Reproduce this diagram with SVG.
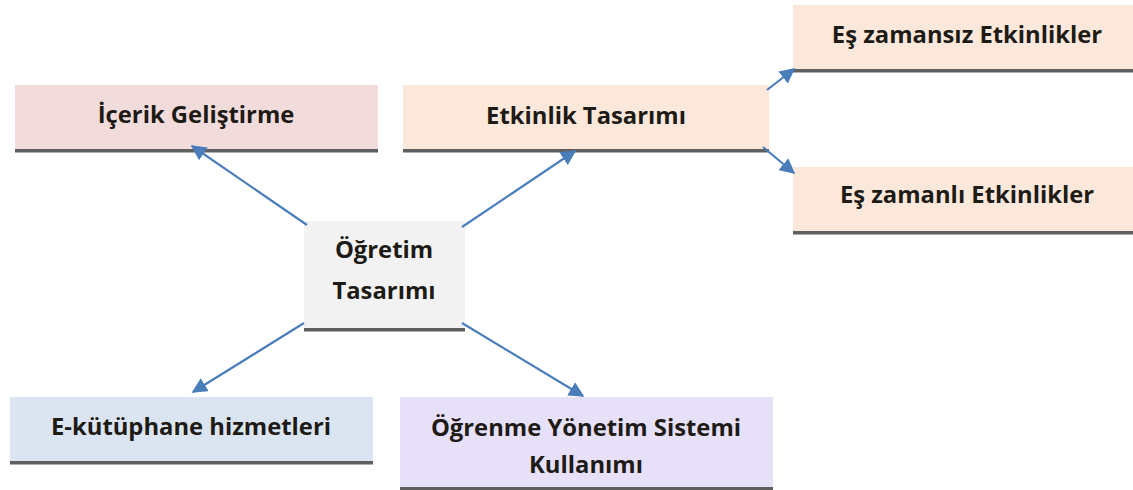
<svg xmlns="http://www.w3.org/2000/svg" width="1133" height="490" viewBox="0 0 1133 490">
<defs>
<style>
.lbl{font-family:"Open Sans","Liberation Sans",sans-serif;font-weight:bold;font-size:23.8px;fill:#1e1b16;text-anchor:middle}
.bar{fill:#5f5f5f}
.con line{stroke:#4a7ebb;stroke-width:2.2;fill:none;marker-end:url(#ah)}
</style>
<marker id="ah" viewBox="0 0 10 10" refX="9" refY="5" markerWidth="7" markerHeight="7" orient="auto" markerUnits="strokeWidth">
<path d="M0,0 L10,5 L0,10 z" fill="#4a7ebb"/>
</marker>
</defs>
<rect width="1133" height="490" fill="#ffffff"/>
<g id="icerik">
<rect x="15" y="85" width="363" height="65" fill="#f2dcdb"/>
<rect class="bar" x="15" y="149" width="363" height="3.5"/>
<text class="lbl" x="196" y="123">İçerik Geliştirme</text>
</g>
<g id="etkinlik">
<rect x="403" y="85" width="366" height="65" fill="#fbe8da"/>
<rect class="bar" x="403" y="149" width="366" height="3.5"/>
<text class="lbl" x="586" y="124">Etkinlik Tasarımı</text>
</g>
<g id="eszamansiz">
<rect x="793" y="5" width="340" height="65" fill="#fbe8da"/>
<rect class="bar" x="793" y="69" width="340" height="3.5"/>
<text class="lbl" x="967" y="43">Eş zamansız Etkinlikler</text>
</g>
<g id="eszamanli">
<rect x="793" y="167" width="340" height="65" fill="#fbe8da"/>
<rect class="bar" x="793" y="231" width="340" height="3.5"/>
<text class="lbl" x="967" y="203">Eş zamanlı Etkinlikler</text>
</g>
<g id="ogretim">
<rect x="304" y="221" width="161" height="108" fill="#f2f2f2"/>
<rect class="bar" x="304" y="328" width="161" height="3.5"/>
<text class="lbl" x="384" y="258">Öğretim</text>
<text class="lbl" x="384" y="299">Tasarımı</text>
</g>
<g id="ekutuphane">
<rect x="10" y="397" width="363" height="65" fill="#dbe5f1"/>
<rect class="bar" x="10" y="461" width="363" height="3.5"/>
<text class="lbl" x="191" y="435">E-kütüphane hizmetleri</text>
</g>
<g id="oys">
<rect x="400" y="397" width="373" height="91" fill="#e6e0f8"/>
<rect class="bar" x="400" y="487" width="373" height="3"/>
<text class="lbl" x="586" y="436">Öğrenme Yönetim Sistemi</text>
<text class="lbl" x="586" y="473">Kullanımı</text>
</g>
<g id="connectors" class="con">
<line x1="307" y1="225" x2="192" y2="146"/>
<line x1="462" y1="227" x2="575" y2="151"/>
<line x1="767" y1="90" x2="794" y2="69"/>
<line x1="763" y1="147" x2="794" y2="173"/>
<line x1="304" y1="323" x2="193" y2="392"/>
<line x1="462" y1="323" x2="583" y2="396"/>
</g>
</svg>
